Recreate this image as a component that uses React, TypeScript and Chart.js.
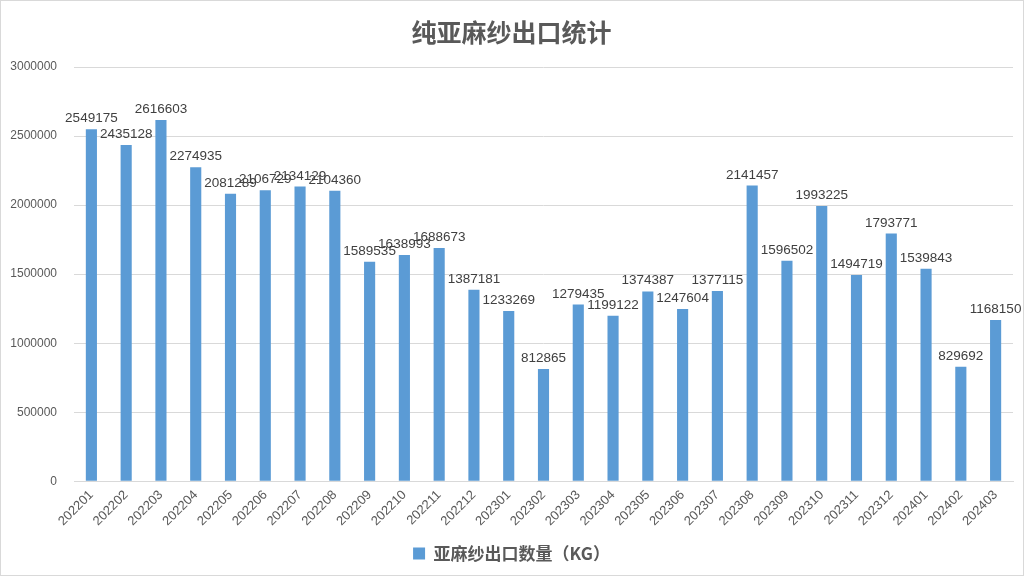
import React, { useEffect, useRef } from "react";
import { Chart, registerables } from "chart.js";

Chart.register(...registerables);

const categories = [
  "202201", "202202", "202203", "202204", "202205", "202206", "202207", "202208", "202209",
  "202210", "202211", "202212", "202301", "202302", "202303", "202304", "202305", "202306",
  "202307", "202308", "202309", "202310", "202311", "202312", "202401", "202402", "202403",
];

const exportQty = [
  2549175, 2435128, 2616603, 2274935, 2081289, 2106729, 2134129, 2104360, 1589535,
  1638993, 1688673, 1387181, 1233269, 812865, 1279435, 1199122, 1374387, 1247604,
  1377115, 2141457, 1596502, 1993225, 1494719, 1793771, 1539843, 829692, 1168150,
];

const titleText = "纯亚麻纱出口统计";
const seriesLabel = "亚麻纱出口数量（KG）";
const yMin = 0;
const yMax = 3000000;
const yStep = 500000;

const FONT = "'Liberation Sans', 'Noto Sans CJK SC', sans-serif";
const CJK = "'Noto Sans CJK SC', 'Liberation Sans', sans-serif";

const dataLabelPlugin = {
  id: "dataLabels",
  afterDatasetsDraw(chart: any) {
    const ctx = chart.ctx;
    ctx.save();
    ctx.font = `13.5px ${FONT}`;
    ctx.fillStyle = "#404040";
    ctx.textAlign = "center";
    ctx.textBaseline = "bottom";
    chart.data.datasets.forEach((ds: any, di: number) => {
      const meta = chart.getDatasetMeta(di);
      meta.data.forEach((el: any, i: number) => {
        ctx.fillText(String(ds.data[i]), el.x, el.y - 4);
      });
    });
    ctx.restore();
  },
};

export default function App() {
  const ref = useRef<HTMLCanvasElement | null>(null);
  useEffect(() => {
    if (!ref.current) return;
    const chart = new Chart(ref.current, {
      type: "bar",
      data: {
        labels: categories,
        datasets: [
          {
            label: seriesLabel,
            data: exportQty,
            backgroundColor: "#5b9bd5",
            categoryPercentage: 1,
            barPercentage: 0.32,
          },
        ],
      },
      options: {
        animation: false,
        responsive: false,
        layout: { padding: { left: 9, right: 10, top: 12, bottom: 3 } },
        plugins: {
          title: {
            display: true,
            text: titleText,
            color: "#595959",
            font: { family: CJK, size: 25, weight: "bold" },
            padding: { top: 4, bottom: 20 },
          },
          legend: {
            display: true,
            position: "bottom",
            labels: {
              color: "#595959",
              font: { family: CJK, size: 17, weight: "bold" },
              boxWidth: 12,
              boxHeight: 12,
              padding: 10,
            },
          },
          tooltip: { enabled: false },
        },
        scales: {
          x: {
            grid: { display: false, drawTicks: false },
            border: { display: true, color: "#d9d9d9" },
            ticks: {
              color: "#595959",
              font: { family: FONT, size: 13 },
              minRotation: 45,
              maxRotation: 45,
              autoSkip: false,
              padding: 6,
            },
            afterFit: (s: any) => {
              s.paddingLeft = 0;
              s.paddingRight = 0;
            },
          },
          y: {
            min: yMin,
            max: yMax,
            grid: { color: "#d9d9d9", drawTicks: false },
            border: { display: false },
            ticks: {
              stepSize: yStep,
              color: "#595959",
              font: { family: FONT, size: 12 },
              padding: 17,
              callback: (v: any) => String(v),
            },
            afterFit: (s: any) => {
              s.width = 64;
            },
          },
        },
      },
      plugins: [dataLabelPlugin],
    });
    return () => chart.destroy();
  }, []);
  return (
    <div
      style={{
        position: "fixed",
        left: 0,
        top: 0,
        width: 1024,
        height: 576,
        boxSizing: "border-box",
        border: "1px solid #d9d9d9",
        background: "#fff",
      }}
    >
      <canvas ref={ref} width={1022} height={574} style={{ display: "block" }} />
    </div>
  );
}
